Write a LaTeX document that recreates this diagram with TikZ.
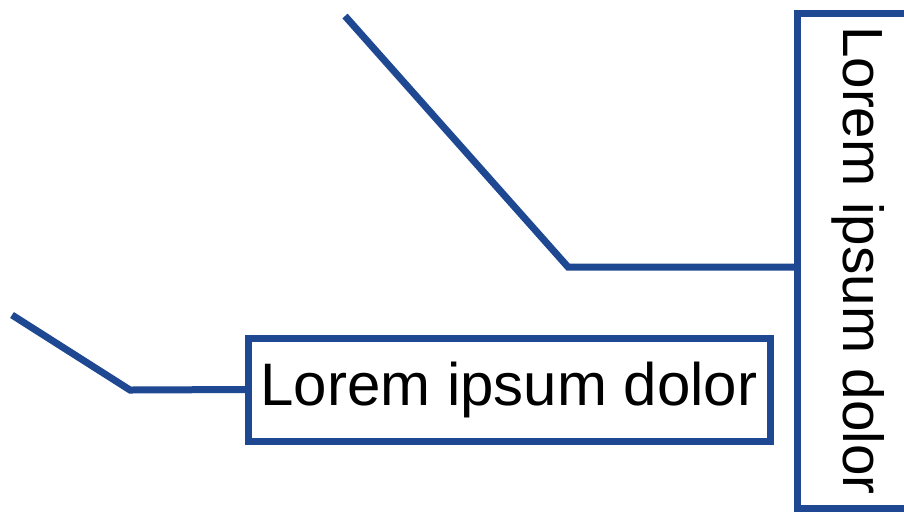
\documentclass[tikz,border=0pt]{standalone}
\usepackage{fontspec}
\setmainfont{Liberation Sans}
\usepackage{tikz}
\usetikzlibrary{calc}
\definecolor{linkblue}{RGB}{30,72,145}

\begin{document}
\begin{tikzpicture}[x=0.5pt,y=-0.5pt,font=\fontsize{30}{32}\selectfont]
  \useasboundingbox (0,0) rectangle (904,526);
  \clip (0,0) rectangle (904,526);
  \tikzset{callout/.style={draw=linkblue,line width=3.5pt,fill=white,inner sep=0pt,outer sep=0pt,text=black}}
  % horizontal label box
  \node[callout,minimum width=261pt,minimum height=51.5pt] (label) at (509,389.5) {Lorem ipsum dolor};
  % vertical title box, running off the right edge
  \node[callout,rotate=-90,minimum width=247.5pt,minimum height=61pt,font=\fontsize{28.3}{30}\selectfont] (title) at (858,260.5) {Lorem ipsum dolor};
  % leader lines
  \coordinate (lowbend) at (130,390);
  \coordinate (lowend) at (12,315);
  \coordinate (upbend) at (568,267);
  \coordinate (upend) at (345,16);
  \draw[linkblue,line width=3.5pt,line join=miter] (label.west) -- (lowbend) -- (lowend);
  \draw[linkblue,line width=3.5pt,line join=miter] (upbend -| title.south) -- (upbend) -- (upend);
\end{tikzpicture}
\end{document}
